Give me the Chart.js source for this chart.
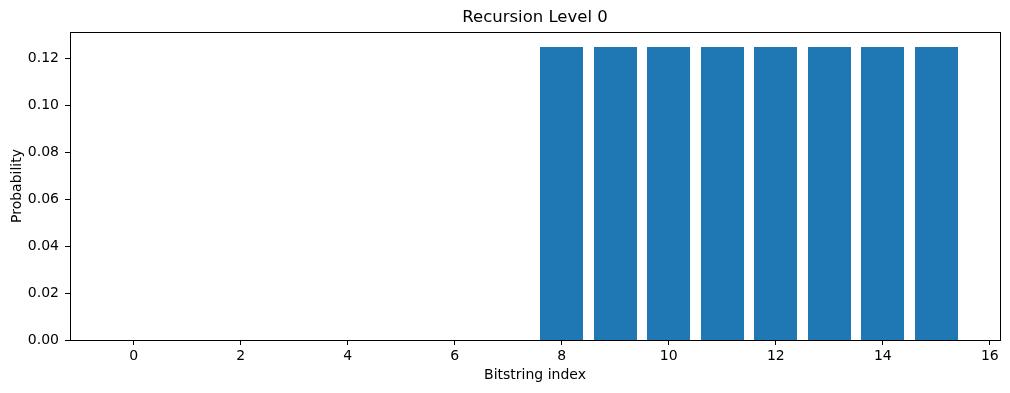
<!DOCTYPE html>
<html>
<head>
<meta charset="utf-8">
<script src="https://cdn.jsdelivr.net/npm/chart.js@4/dist/chart.umd.min.js"></script>
<style>
  html, body { margin: 0; padding: 0; background: #fff; }
  #c { display: block; }
</style>
</head>
<body>
<canvas id="c" width="1010" height="393"></canvas>
<script>
const bitstringIndex = [0, 1, 2, 3, 4, 5, 6, 7, 8, 9, 10, 11, 12, 13, 14, 15];
const probabilities = [0, 0, 0, 0, 0, 0, 0, 0, 0.125, 0.125, 0.125, 0.125, 0.125, 0.125, 0.125, 0.125];
const xTickValues = [0, 2, 4, 6, 8, 10, 12, 14, 16];
const yTickValues = [0, 0.02, 0.04, 0.06, 0.08, 0.10, 0.12];
const chartTitle = 'Recursion Level 0';
const xLabel = 'Bitstring index';
const yLabel = 'Probability';

Chart.defaults.font.family = "'DejaVu Sans', sans-serif";
Chart.defaults.color = '#000';

const framePlugin = {
  id: 'frame',
  afterDraw(chart) {
    const {ctx, chartArea: a} = chart;
    ctx.save();
    ctx.strokeStyle = '#000';
    ctx.lineWidth = 1;
    ctx.strokeRect(Math.round(a.left) + 0.5, Math.round(a.top) + 0.5,
      Math.round(a.right) - Math.round(a.left), Math.round(a.bottom) - Math.round(a.top));
    ctx.restore();
  }
};

// snap bar edges to whole pixels (like matplotlib) to avoid soft anti-aliased edges
const snapPlugin = {
  id: 'snap',
  beforeDatasetsDraw(chart) {
    chart.getSortedVisibleDatasetMetas().forEach(meta => {
      meta.data.forEach(el => {
        const l = Math.round(el.x - el.width / 2);
        const r = Math.round(el.x + el.width / 2);
        el.x = (l + r) / 2;
        el.width = r - l;
        el.y = Math.round(el.y);
        el.base = Math.round(el.base);
      });
    });
  }
};

new Chart(document.getElementById('c'), {
  type: 'bar',
  data: {
    datasets: [{
      data: bitstringIndex.map((x, i) => ({x: x, y: probabilities[i]})),
      backgroundColor: '#1f77b4',
      borderWidth: 0,
      inflateAmount: 0,
      categoryPercentage: 0.8,
      barPercentage: 1.0
    }]
  },
  plugins: [snapPlugin, framePlugin],
  options: {
    responsive: false,
    devicePixelRatio: 1,
    animation: false,
    layout: { padding: { left: 0, right: 10, top: 0, bottom: 0 } },
    plugins: {
      legend: { display: false },
      tooltip: { enabled: false },
      title: {
        display: true,
        fullSize: false,
        text: chartTitle,
        color: '#000',
        font: { size: 16.5, weight: 'normal' },
        padding: { top: 8, bottom: 4.2 }
      }
    },
    scales: {
      x: {
        type: 'linear',
        min: -1.19,
        max: 16.19,
        offset: false,
        afterBuildTicks: s => { s.ticks = xTickValues.map(v => ({value: v})); },
        afterFit: s => { s.height = 53; },
        ticks: { font: { size: 14 }, color: '#000', padding: 3, maxRotation: 0, autoSkip: false,
                 callback: v => String(v) },
        grid: { offset: false, drawOnChartArea: false, drawTicks: true, tickLength: 5, color: '#000', tickWidth: 1 },
        border: { display: true, color: '#000', width: 1 },
        title: { display: true, text: xLabel, color: '#000', font: { size: 14 }, padding: { top: 0, bottom: 9.6 } }
      },
      y: {
        min: 0,
        max: 0.13125,
        afterBuildTicks: s => { s.ticks = yTickValues.map(v => ({value: v})); },
        afterFit: s => { s.width = 70; },
        ticks: { font: { size: 14 }, color: '#000', padding: 6, autoSkip: false,
                 callback: v => Number(v).toFixed(2) },
        grid: { offset: false, drawOnChartArea: false, drawTicks: true, tickLength: 5, color: '#000', tickWidth: 1 },
        border: { display: true, color: '#000', width: 1 },
        title: { display: true, text: yLabel, color: '#000', font: { size: 14 }, padding: { top: 8.6, bottom: 0 } }
      }
    }
  }
});
</script>
</body>
</html>
